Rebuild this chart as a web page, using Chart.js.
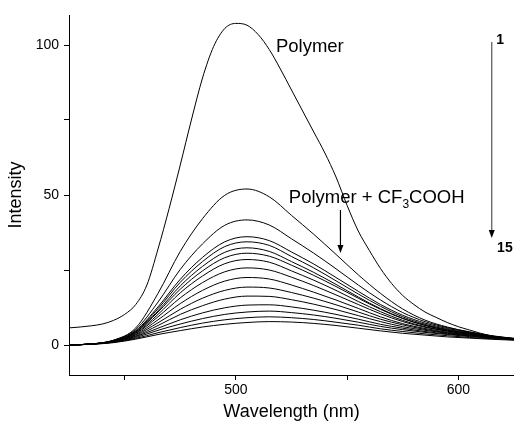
<!DOCTYPE html>
<html>
<head>
<meta charset="utf-8">
<script src="https://cdn.jsdelivr.net/npm/chart.js@4"></script>
<style>
    html, body { margin: 0; padding: 0; background: #fff; }
    #caja { position: relative; width: 514px; height: 429px; }
</style>
</head>
<body>
<div id="caja"><canvas id="grafico"></canvas></div>
<script>
// eje x de las curvas con acido (nm)
const longitudes = [425, 435, 445, 455, 465, 475, 485, 495, 505, 515, 525, 535, 545, 555, 565, 575, 585, 595, 605, 615, 625];

// el polimero solo se lee cada 5 nm
const longitudesPolimero = [425, 430, 435, 440, 445, 450, 455, 460, 465, 470, 475, 480, 485, 490, 495, 500, 505, 510, 515, 520,
    525, 530, 535, 540, 545, 550, 555, 560, 565, 570, 575, 580, 585, 590, 595, 600, 605, 610, 615, 620, 625];
const polimero = [5.7, 6.0, 6.4, 7.0, 8.2, 10.2, 13.5, 20, 32, 45.5, 60, 75, 89, 99.5, 105.5, 107.2, 106.6, 103.5, 98.5, 92,
    85, 78, 71, 64, 56, 46.5, 38, 31.5, 25.5, 20.5, 16.5, 13.5, 11, 9.2, 7.5, 6.1, 5, 3.9, 3, 2.3, 1.7];

// curvas con CF3COOH, de mayor a menor intensidad
const acido01 = [0, 0.3, 1.6, 5.7, 17.2, 31.2, 42.1, 49.9, 52, 49.4, 43.2, 36.9, 30.2, 23.4, 17.2, 12.0, 8.3, 6.0, 4.3, 2.8, 1.8];
const acido02 = [0, 0.35, 1.56, 5.2, 14.3, 25.2, 33.7, 39.9, 41.7, 40.0, 35.4, 30.6, 25.4, 20.0, 15.0, 10.8, 7.8, 5.8, 4.4, 3.1, 2.2];
const acido03 = [0, 0.35, 1.5, 4.8, 12.7, 21.9, 29.2, 34.4, 36.1, 34.8, 31.0, 27.0, 22.5, 17.9, 13.5, 9.9, 7.3, 5.5, 4.2, 3.0, 2.2];
const acido04 = [0, 0.34, 1.4, 4.6, 12.1, 20.9, 27.8, 32.8, 34.4, 33.2, 29.5, 25.7, 21.4, 17.0, 12.9, 9.4, 6.9, 5.2, 4.0, 2.9, 2.1];
const acido05 = [0, 0.32, 1.3, 4.3, 11.4, 19.7, 26.2, 30.9, 32.4, 31.2, 27.8, 24.2, 20.2, 16.0, 12.1, 8.9, 6.5, 4.9, 3.8, 2.7, 2.0];
const acido06 = [0, 0.34, 1.4, 4.3, 11.0, 18.6, 24.7, 29.1, 30.6, 29.6, 26.6, 23.2, 19.5, 15.6, 11.9, 8.8, 6.6, 5.0, 3.9, 2.9, 2.1];
const acido07 = [0, 0.31, 1.3, 4.0, 10.2, 17.4, 23.0, 27.1, 28.5, 27.6, 24.7, 21.6, 18.2, 14.5, 11.1, 8.2, 6.1, 4.7, 3.6, 2.7, 2.0];
const acido08 = [0, 0.31, 1.25, 3.8, 9.4, 15.7, 20.8, 24.4, 25.7, 25.0, 22.6, 19.8, 16.7, 13.5, 10.4, 7.8, 5.9, 4.6, 3.5, 2.6, 2.0];
const acido09 = [0, 0.3, 1.2, 3.5, 8.4, 13.8, 18.2, 21.3, 22.5, 22.0, 20.0, 17.6, 15.0, 12.2, 9.4, 7.1, 5.5, 4.3, 3.3, 2.5, 2.0];
const acido10 = [0, 0.3, 1.15, 3.3, 7.4, 11.9, 15.6, 18.2, 19.3, 19.0, 17.5, 15.6, 13.4, 11.0, 8.6, 6.7, 5.2, 4.1, 3.3, 2.6, 2.0];
const acido11 = [0, 0.3, 1.1, 3.0, 6.5, 10.2, 13.1, 15.3, 16.3, 16.2, 15.1, 13.6, 11.8, 9.8, 7.8, 6.1, 4.9, 3.9, 3.1, 2.5, 2.0];
const acido12 = [0, 0.3, 1.0, 2.8, 5.6, 8.4, 10.7, 12.4, 13.3, 13.4, 12.7, 11.6, 10.2, 8.6, 6.9, 5.6, 4.5, 3.7, 3.0, 2.4, 2.0];
const acido13 = [0, 0.3, 1.0, 2.5, 4.9, 7.0, 8.8, 10.2, 11.0, 11.3, 10.8, 10.0, 8.9, 7.6, 6.2, 5.1, 4.2, 3.5, 2.8, 2.3, 1.9];
const acido14 = [0, 0.26, 0.9, 2.2, 4.1, 5.8, 7.3, 8.4, 9.1, 9.4, 9.1, 8.5, 7.6, 6.6, 5.4, 4.5, 3.7, 3.1, 2.5, 2.1, 1.7];
const acido15 = [0, 0.23, 0.78, 1.95, 3.5, 4.8, 6.0, 6.9, 7.5, 7.8, 7.65, 7.2, 6.5, 5.6, 4.7, 3.9, 3.3, 2.7, 2.3, 1.9, 1.6];

const curvasAcido = [acido01, acido02, acido03, acido04, acido05, acido06, acido07, acido08, acido09, acido10, acido11, acido12, acido13, acido14, acido15];

// marcas de los ejes
const marcasX = [450, 500, 550, 600];
const marcasY = [0, 25, 50, 75, 100];

const fuente = '"Liberation Sans", Arial, sans-serif';

function armarSerie(etiqueta, xs, valores) {
    return {
        label: etiqueta,
        data: valores.map((v, i) => ({ x: xs[i], y: v })),
        borderColor: '#000',
        borderWidth: 1,
        pointRadius: 0,
        fill: false,
        cubicInterpolationMode: 'monotone'
    };
}

// flecha vertical hacia abajo
function flecha(ctx, x, y1, y2, colorLinea) {
    ctx.strokeStyle = colorLinea;
    ctx.lineWidth = 1.2;
    ctx.beginPath();
    ctx.moveTo(x, y1);
    ctx.lineTo(x, y2 - 6);
    ctx.stroke();
    ctx.fillStyle = '#000';
    ctx.beginPath();
    ctx.moveTo(x - 3, y2 - 8);
    ctx.lineTo(x + 3, y2 - 8);
    ctx.lineTo(x, y2);
    ctx.closePath();
    ctx.fill();
}

const anotaciones = {
    id: 'anotaciones',
    afterDatasetsDraw(chart) {
        const { ctx, scales: { x, y } } = chart;
        ctx.save();
        ctx.fillStyle = '#000';
        ctx.textBaseline = 'middle';
        ctx.textAlign = 'left';

        ctx.font = '18.5px ' + fuente;
        ctx.fillText('Polymer', x.getPixelForValue(518), y.getPixelForValue(99.3));

        let px = x.getPixelForValue(523.8);
        const py = y.getPixelForValue(49);
        ctx.fillText('Polymer + CF', px, py);
        px += ctx.measureText('Polymer + CF').width;
        ctx.font = '12px ' + fuente;
        ctx.fillText('3', px, py + 7);
        px += ctx.measureText('3').width;
        ctx.font = '18.5px ' + fuente;
        ctx.fillText('COOH', px, py);

        flecha(ctx, x.getPixelForValue(547), y.getPixelForValue(45), y.getPixelForValue(30.7), '#000');
        flecha(ctx, x.getPixelForValue(615), y.getPixelForValue(101), y.getPixelForValue(35.7), '#555');

        ctx.font = 'bold 14px ' + fuente;
        ctx.fillText('1', x.getPixelForValue(617), y.getPixelForValue(101.7));
        ctx.fillText('15', x.getPixelForValue(617.4), y.getPixelForValue(32.3));
        ctx.restore();
    }
};

document.addEventListener("DOMContentLoaded", function() {
    const series = [armarSerie('Polymer', longitudesPolimero, polimero)];
    curvasAcido.forEach((curva, i) => series.push(armarSerie('Polymer + CF3COOH ' + (i + 1), longitudes, curva)));

    new Chart(document.getElementById('grafico'), {
        type: 'line',
        data: { datasets: series },
        options: {
            responsive: true,
            maintainAspectRatio: false,
            animation: false,
            layout: { padding: { top: 15, right: 0, left: 0, bottom: 0 } },
            plugins: {
                legend: { display: false },
                tooltip: { enabled: false }
            },
            scales: {
                x: {
                    type: 'linear',
                    min: 425,
                    max: 625,
                    afterFit: s => { s.height = 54; },
                    afterBuildTicks: s => { s.ticks = marcasX.map(v => ({ value: v })); },
                    grid: { drawOnChartArea: false, tickLength: 5, color: '#000', tickColor: '#000' },
                    border: { color: '#000', width: 1 },
                    ticks: {
                        color: '#000',
                        padding: 2,
                        maxRotation: 0,
                        font: { family: fuente, size: 14 },
                        callback: v => (v % 100 === 0 ? v : '')
                    },
                    title: {
                        display: true,
                        text: 'Wavelength (nm)',
                        color: '#000',
                        font: { family: fuente, size: 18 },
                        padding: { top: 0, bottom: 6 }
                    }
                },
                y: {
                    min: -10,
                    max: 110,
                    afterFit: s => { s.width = 69; },
                    afterBuildTicks: s => { s.ticks = marcasY.map(v => ({ value: v })); },
                    grid: { drawOnChartArea: false, tickLength: 5, color: '#000', tickColor: '#000' },
                    border: { color: '#000', width: 1 },
                    ticks: {
                        color: '#000',
                        padding: 5,
                        font: { family: fuente, size: 14 },
                        callback: v => (v % 50 === 0 ? v : '')
                    },
                    title: {
                        display: true,
                        text: 'Intensity',
                        color: '#000',
                        font: { family: fuente, size: 18 },
                        padding: { top: 5, bottom: 0 }
                    }
                }
            }
        },
        plugins: [anotaciones]
    });
});
</script>
</body>
</html>
